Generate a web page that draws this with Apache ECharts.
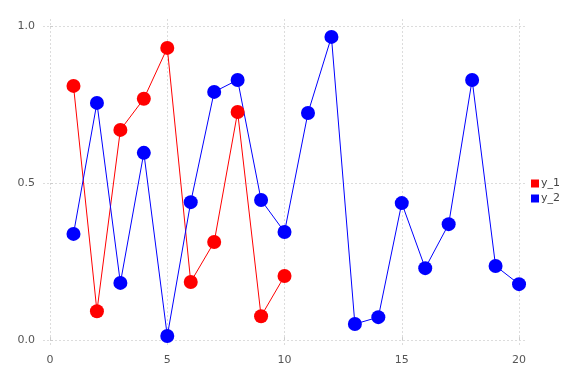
<!DOCTYPE html>
<html><head><meta charset="utf-8">
<script src="https://cdn.jsdelivr.net/npm/echarts@6/dist/echarts.min.js"></script>
<style>html,body{margin:0;padding:0;background:#fff}#c{width:576px;height:384px}</style>
</head><body><div id="c"></div>
<script>
const xs1 = [1,2,3,4,5,6,7,8,9,10];
const y1 = [0.809,0.092,0.669,0.768,0.930,0.185,0.312,0.726,0.076,0.204];
const xs2 = [1,2,3,4,5,6,7,8,9,10,11,12,13,14,15,16,17,18,19,20];
const y2 = [0.338,0.755,0.182,0.596,0.013,0.439,0.790,0.828,0.446,0.344,0.723,0.965,0.051,0.073,0.436,0.229,0.369,0.828,0.236,0.178];
const xTicks = [0,5,10,15,20];
const yTicks = [0,0.5,1.0];
const names = ['y_1','y_2'];

const chart = echarts.init(document.getElementById('c'));
const font = 'DejaVu Sans';
chart.setOption({
  animation:false,
  textStyle:{fontFamily:font},
  grid:{left:43,right:49,top:19,bottom:37,containLabel:false},
  legend:{orient:'vertical',left:526,top:173,itemWidth:8,itemHeight:8,itemGap:4,
    icon:'rect',textStyle:{fontFamily:font,fontSize:11,color:'#444',padding:[0,0,0,-3]},
    data:names},
  xAxis:{type:'value',min:-0.3,max:20.34,
    axisLine:{show:false},
    axisTick:{show:true,customValues:xTicks,length:3,inside:true,lineStyle:{color:'#ccc'}},
    axisLabel:{customValues:xTicks,color:'#555',fontSize:11,fontFamily:font,margin:8},
    splitLine:{show:true,lineStyle:{color:'#dcdcdc',type:[2,2],width:1}}},
  yAxis:{type:'value',min:-0.022,max:1.022,
    axisLine:{show:false},
    axisTick:{show:true,customValues:yTicks,length:3,inside:true,lineStyle:{color:'#ccc'}},
    axisLabel:{customValues:yTicks,color:'#555',fontSize:11,fontFamily:font,margin:8,
      formatter:v=>v.toFixed(1)},
    splitLine:{show:true,lineStyle:{color:'#dcdcdc',type:[2,2],width:1}}},
  series:[
    {name:names[0],type:'line',data:xs1.map((x,i)=>[x,y1[i]]),symbol:'circle',symbolSize:14,
      itemStyle:{color:'#ff0000'},lineStyle:{color:'#ff0000',width:1}},
    {name:names[1],type:'line',data:xs2.map((x,i)=>[x,y2[i]]),symbol:'circle',symbolSize:14,
      itemStyle:{color:'#0000ff'},lineStyle:{color:'#0000ff',width:1}}
  ]
});
</script></body></html>
